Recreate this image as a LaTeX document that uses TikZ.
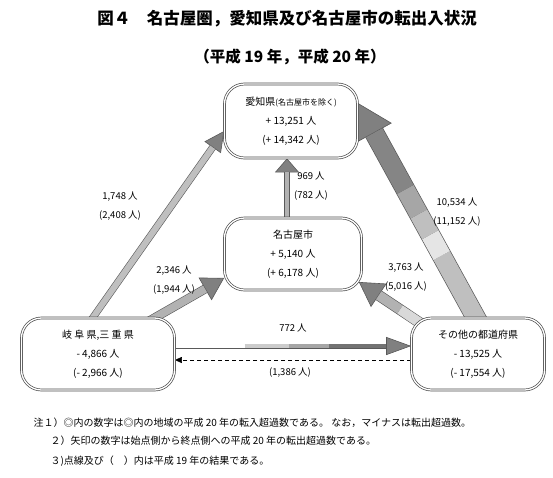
\documentclass[tikz,border=0pt]{standalone}
\usepackage{fontspec}
\setmainfont{Noto Sans CJK JP}
\usetikzlibrary{arrows.meta,calc,backgrounds}

\tikzset{
  box/.style={draw=black!70, line width=.7pt, double=white, double distance=1.3pt,
    rounded corners=20pt, fill=white, align=center, inner sep=0pt,
    font=\fontsize{10}{19}\selectfont},
  lbl/.style={align=center, font=\fontsize{9.5}{19}\selectfont},
  shaft/.style={line width=#1, draw=black!65},
  head/.style 2 args={-{Triangle[width=#1, length=#2, line width=.6pt, fill=black!50]}},
}

\begin{document}
\begin{tikzpicture}[x=1pt, y=-1pt]
\useasboundingbox (0,0) rectangle (553,477);

\node[font=\bfseries\fontsize{16.5}{16.5}\selectfont] (title) at (287,19)
  {図４　名古屋圏，愛知県及び名古屋市の転出入状況};
\node[font=\bfseries\fontsize{15.5}{15.5}\selectfont] (sub) at (290,57)
  {（平成 19 年，平成 20 年）};

% regions
\node[box, minimum width=133pt, minimum height=74pt] (aichi) at (291,121)
  {愛知県{\fontsize{8}{8}\selectfont (名古屋市を除く)}\\+ 13,251 人\\(+ 14,342 人)};
\node[box, minimum width=137pt, minimum height=72pt] (nagoya) at (293,254)
  {名古屋市\\+ 5,140 人\\(+ 6,178 人)};
\node[box, minimum width=153pt, minimum height=72pt] (gifu) at (98,354)
  {岐 阜 県,三 重 県\\- 4,866 人\\(- 2,966 人)};
\node[box, minimum width=133pt, minimum height=72pt] (other) at (478,354)
  {その他の都道府県\\- 13,525 人\\(- 17,554 人)};

% flows
\begin{pgfonlayer}{background}
\coordinate (s1) at ($(gifu.north)+(-8,4)$);
\coordinate (e1) at ($(aichi.west)+(0,10)$);
\coordinate (b1) at ($(e1)!20pt!(s1)$);
\draw[shaft=7.2pt, head={20pt}{20pt}] (s1) -- (e1);
\draw[line width=6pt, black!25] (s1) -- (b1);

\coordinate (s2) at ($(nagoya.north)+(-6,4)$);
\coordinate (e2) at ($(aichi.south)+(-4,0)$);
\coordinate (b2) at ($(e2)!14pt!(s2)$);
\draw[shaft=6pt, head={24pt}{14pt}] (s2) -- (e2);
\draw[line width=4.8pt, black!30] (s2) -- (b2);

\coordinate (s3) at ($(gifu.north)+(50,4)$);
\coordinate (e3) at ($(nagoya.west)+(0,24)$);
\coordinate (b3) at ($(e3)!22pt!(s3)$);
\draw[shaft=9pt, head={26pt}{22pt}] (s3) -- (e3);
\draw[line width=7.8pt, black!30] (s3) -- (b3);

\coordinate (s4) at ($(other.north west)+(10,6)$);
\coordinate (e4) at ($(nagoya.east)+(-3,28)$);
\coordinate (b4) at ($(e4)!24pt!(s4)$);
\draw[shaft=11pt, head={28pt}{24pt}] (s4) -- (e4);
\foreach \a/\b/\c in {0/.5/black!15, .5/1/black!30}
  \draw[line width=9.8pt, \c] ($(s4)!\a!(b4)$) -- ($(s4)!\b!(b4)$);

\coordinate (s5) at ($(other.north)+(0,4)$);
\coordinate (e5) at ($(aichi.east)+(0,-18)$);
\coordinate (b5) at ($(e5)!34pt!(s5)$);
\draw[shaft=20pt, head={40pt}{34pt}] (s5) -- (e5);
\foreach \a/\b/\c in {0/.35/black!25, .35/.46/black!10, .46/.57/black!25, .57/.7/black!35, .7/1/black!48}
  \draw[line width=18.6pt, \c] ($(s5)!\a!(b5)$) -- ($(s5)!\b!(b5)$);

\coordinate (s6) at ($(gifu.east)+(0,-8)$);
\coordinate (e6) at ($(other.west)+(0,-8)$);
\coordinate (b6) at ($(e6)!25pt!(s6)$);
\draw[shaft=5pt, head={18pt}{25pt}] (s6) -- (e6);
\foreach \a/\b/\c in {0/.33/white, .33/.54/black!20, .54/.73/black!35, .73/1/black!55}
  \draw[line width=3.8pt, \c] ($(s6)!\a!(b6)$) -- ($(s6)!\b!(b6)$);

\coordinate (s7) at ($(other.west)+(0,6)$);
\coordinate (e7) at ($(gifu.east)+(0,6)$);
\draw[thin, dash pattern=on 4pt off 3pt, -{Triangle[width=6pt,length=7pt]}] (s7) -- (e7);
\end{pgfonlayer}

% flow labels
\node[lbl] (l1) at (120,206) {1,748 人\\(2,408 人)};
\node[lbl] (l2) at (311,186) {969 人\\(782 人)};
\node[lbl] (l3) at (174,280) {2,346 人\\(1,944 人)};
\node[lbl] (l4) at (406,277) {3,763 人\\(5,016 人)};
\node[lbl] (l5) at (457,212) {10,534 人\\(11,152 人)};
\node[lbl] (l6) at (293,328) {772 人};
\node[lbl] (l7) at (290,373) {(1,386 人)};

% notes
\node[anchor=west, font=\fontsize{10}{10}\selectfont] (n1) at (30,423)
  {注１）◎内の数字は◎内の地域の平成 20 年の転入超過数である。 なお，マイナスは転出超過数。};
\node[anchor=west, font=\fontsize{10}{10}\selectfont] (n2) at (47,441)
  {２）矢印の数字は始点側から終点側への平成 20 年の転出超過数である。};
\node[anchor=west, font=\fontsize{10}{10}\selectfont] (n3) at (47,461)
  {３)点線及び（　）内は平成 19 年の結果である。};

\end{tikzpicture}
\end{document}
